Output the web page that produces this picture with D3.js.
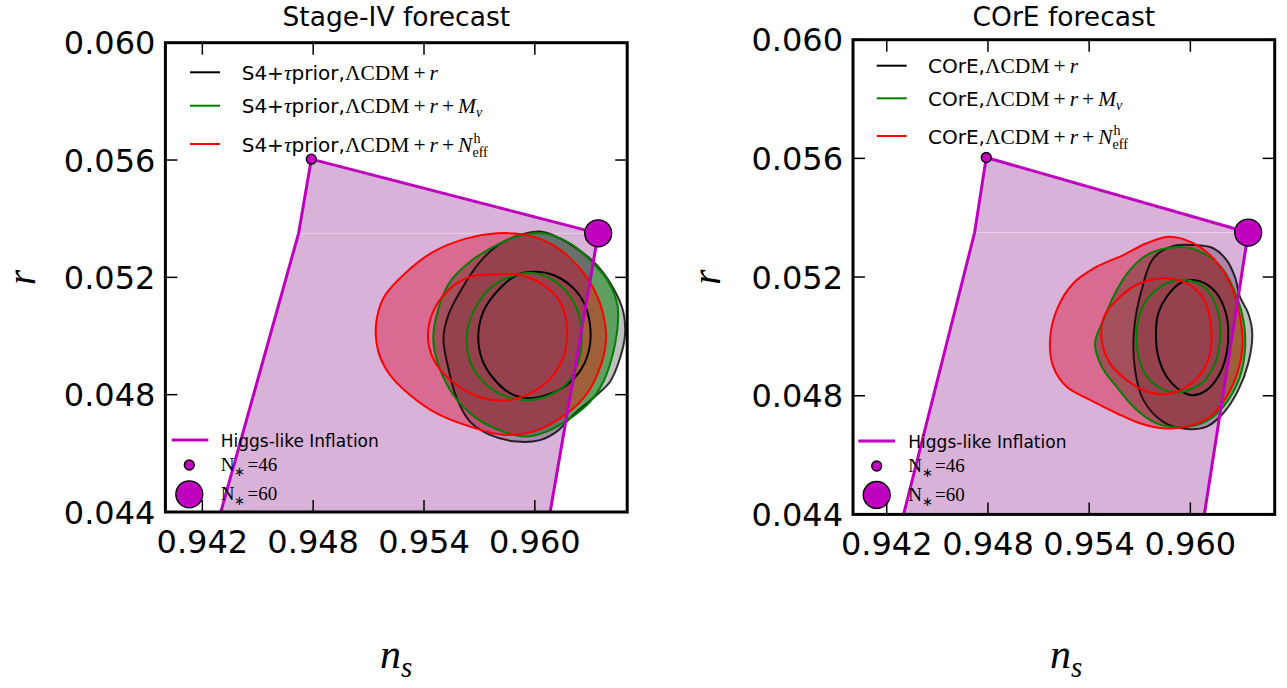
<!DOCTYPE html>
<html><head><meta charset="utf-8">
<script src="https://cdn.jsdelivr.net/npm/d3@7/dist/d3.min.js"></script>
<style>html,body{margin:0;padding:0;background:#fff;}svg{display:block;}</style>
</head><body>
<svg id="chart" width="1287" height="688"></svg>
<script>
// ---------- data ----------
const nsTicks = [0.942, 0.948, 0.954, 0.960];
const rTicks = [0.044, 0.048, 0.052, 0.056, 0.060];
const nsDomain = [0.940, 0.965];
const rDomain = [0.044, 0.060];
const nsTickLabels = ["0.942", "0.948", "0.954", "0.960"];
const rTickLabels = ["0.044", "0.048", "0.052", "0.056", "0.060"];

// Higgs-like inflation region (N*=46 ... N*=60)
const higgsN46 = [0.9479, 0.05603];
const higgsN60 = [0.96343, 0.0535];
const higgsLeftEdge = [[0.9479, 0.05603], [0.94721, 0.0535], [0.9430, 0.044]];
const higgsRightEdge = [[0.96343, 0.0535], [0.96083, 0.044]];

// Stage-IV contours
const s4Black95 = [[0.96028,0.05356],[0.95829,0.05321],[0.95703,0.05253],[0.95595,0.05151],[0.95532,0.05072],[0.95505,0.04992],[0.95532,0.04890],[0.95577,0.04788],[0.95649,0.04708],[0.95757,0.04663],[0.95902,0.04640],[0.96028,0.04645],[0.96118,0.04674],[0.96208,0.04731],[0.96335,0.04799],[0.96407,0.04844],[0.96461,0.04924],[0.96488,0.05003],[0.96479,0.05083],[0.96425,0.05163],[0.96335,0.05242],[0.96227,0.05299],[0.96136,0.05333]];
const s4Black68 = [[0.96010,0.05219],[0.95902,0.05208],[0.95794,0.05151],[0.95721,0.05083],[0.95694,0.05003],[0.95712,0.04924],[0.95775,0.04856],[0.95866,0.04805],[0.95956,0.04788],[0.96064,0.04799],[0.96173,0.04833],[0.96254,0.04890],[0.96295,0.04958],[0.96299,0.05037],[0.96263,0.05117],[0.96190,0.05174],[0.96100,0.05208]];
const s4Green95 = [[0.95450,0.04992],[0.95478,0.05094],[0.95541,0.05185],[0.95649,0.05253],[0.95775,0.05304],[0.95902,0.05339],[0.96046,0.05350],[0.96190,0.05316],[0.96299,0.05259],[0.96398,0.05185],[0.96447,0.05106],[0.96447,0.05026],[0.96416,0.04924],[0.96371,0.04844],[0.96299,0.04776],[0.96190,0.04719],[0.96064,0.04674],[0.95956,0.04657],[0.95829,0.04674],[0.95685,0.04719],[0.95559,0.04799],[0.95478,0.04901]];
const s4Green68 = [[0.95866,0.05202],[0.95757,0.05163],[0.95667,0.05083],[0.95631,0.04992],[0.95658,0.04901],[0.95740,0.04833],[0.95848,0.04793],[0.95956,0.04782],[0.96082,0.04799],[0.96181,0.04844],[0.96235,0.04912],[0.96254,0.05003],[0.96227,0.05094],[0.96154,0.05163],[0.96064,0.05202],[0.95974,0.05216]];
const s4Red95 = [[0.95794,0.05350],[0.95631,0.05333],[0.95450,0.05287],[0.95288,0.05208],[0.95180,0.05129],[0.95140,0.05037],[0.95153,0.04946],[0.95216,0.04867],[0.95324,0.04799],[0.95469,0.04736],[0.95649,0.04691],[0.95829,0.04663],[0.95992,0.04674],[0.96136,0.04719],[0.96263,0.04788],[0.96344,0.04878],[0.96385,0.04981],[0.96371,0.05072],[0.96317,0.05163],[0.96227,0.05242],[0.96100,0.05310],[0.95956,0.05344]];
const s4Red68 = [[0.95794,0.05210],[0.95649,0.05202],[0.95523,0.05151],[0.95442,0.05072],[0.95423,0.04981],[0.95469,0.04901],[0.95577,0.04833],[0.95721,0.04788],[0.95866,0.04782],[0.95992,0.04810],[0.96100,0.04867],[0.96163,0.04946],[0.96173,0.05037],[0.96136,0.05117],[0.96046,0.05174],[0.95920,0.05208]];

// COrE contours
const coreBlack95 = [[0.95899,0.05305],[0.95780,0.05263],[0.95711,0.05156],[0.95666,0.05021],[0.95672,0.04887],[0.95721,0.04786],[0.95839,0.04712],[0.95978,0.04688],[0.96097,0.04696],[0.96195,0.04741],[0.96284,0.04819],[0.96343,0.04909],[0.96367,0.05010],[0.96343,0.05078],[0.96294,0.05134],[0.96264,0.05201],[0.96215,0.05257],[0.96136,0.05297],[0.96017,0.05308]];
const coreBlack68 = [[0.96017,0.05190],[0.95938,0.05179],[0.95860,0.05134],[0.95810,0.05078],[0.95796,0.05010],[0.95810,0.04931],[0.95860,0.04864],[0.95938,0.04819],[0.96008,0.04802],[0.96097,0.04819],[0.96176,0.04876],[0.96215,0.04943],[0.96225,0.05021],[0.96205,0.05089],[0.96156,0.05145],[0.96087,0.05179]];
const coreGreen95 = [[0.95860,0.05297],[0.95741,0.05274],[0.95642,0.05224],[0.95553,0.05145],[0.95484,0.05055],[0.95435,0.04977],[0.95474,0.04898],[0.95563,0.04830],[0.95682,0.04752],[0.95800,0.04707],[0.95919,0.04694],[0.96037,0.04701],[0.96136,0.04729],[0.96225,0.04786],[0.96294,0.04864],[0.96324,0.04954],[0.96318,0.05044],[0.96275,0.05134],[0.96195,0.05224],[0.96097,0.05274],[0.95978,0.05300]];
const coreGreen68 = [[0.95938,0.05190],[0.95839,0.05173],[0.95741,0.05123],[0.95691,0.05055],[0.95682,0.04977],[0.95711,0.04898],[0.95780,0.04842],[0.95879,0.04814],[0.95978,0.04817],[0.96077,0.04847],[0.96146,0.04909],[0.96176,0.04988],[0.96166,0.05078],[0.96116,0.05145],[0.96037,0.05181]];
const coreRed95 = [[0.95879,0.05336],[0.95741,0.05314],[0.95602,0.05274],[0.95445,0.05235],[0.95306,0.05179],[0.95208,0.05089],[0.95168,0.04988],[0.95187,0.04898],[0.95267,0.04830],[0.95405,0.04786],[0.95563,0.04741],[0.95701,0.04707],[0.95839,0.04690],[0.95978,0.04696],[0.96116,0.04729],[0.96215,0.04797],[0.96284,0.04887],[0.96310,0.04977],[0.96294,0.05066],[0.96245,0.05167],[0.96146,0.05257],[0.96017,0.05314]];
const coreRed68 = [[0.95860,0.05196],[0.95701,0.05179],[0.95573,0.05128],[0.95488,0.05066],[0.95474,0.04988],[0.95523,0.04909],[0.95622,0.04853],[0.95741,0.04814],[0.95860,0.04806],[0.95978,0.04830],[0.96077,0.04887],[0.96120,0.04954],[0.96120,0.05044],[0.96081,0.05123],[0.95998,0.05173]];

const panelTitles = ["Stage-IV forecast", "COrE forecast"];
const legendPrefixes = [
  [{t:"S4+", f:"sans"}, {t:"τ", f:"serif", i:true}, {t:"prior,", f:"sans"}],
  [{t:"COrE,", f:"sans"}]
];
const higgsLabel = "Higgs-like Inflation";
const nStarValues = ["46", "60"];

// ---------- layout / style ----------
const SANS = "DejaVu Sans", SERIF = "Liberation Serif";
const colBlack = "#000000", colGreen = "#008000", colRed = "#ff0000", colMag = "#bf00bf";

const panels = [
  {x0:165.4, x1:627.2, y0:512, y1:42.7,
   data:{b95:s4Black95,b68:s4Black68,g95:s4Green95,g68:s4Green68,r95:s4Red95,r68:s4Red68},
   leg:{lx1:190, lx2:220, tx:241.7, rows:[72.3,105.7,144]},
   leg2:{lx1:171.7, lx2:208.3, ly:440, tx:220.7, mx:189.3, my:[465,494.3]},
   nsx:392, rBase:35},
  {x0:853, x1:1274.7, y0:514.4, y1:39.7,
   data:{b95:coreBlack95,b68:coreBlack68,g95:coreGreen95,g68:coreGreen68,r95:coreRed95,r68:coreRed68},
   leg:{lx1:876.7, lx2:906.7, tx:928, rows:[65.7,98.3,136]},
   leg2:{lx1:858.3, lx2:895, ly:441, tx:908.3, mx:876.7, my:[466,495]},
   nsx:1062, rBase:720}
];

const svg = d3.select("#chart");
const defs = svg.append("defs");

function fam(f){ return f === "sans" ? SANS : SERIF; }
function rich(g, x, y, segs, baseSize){
  let cx = x;
  segs.forEach(s => {
    const t = g.append("text")
      .attr("x", cx + (s.dx||0)).attr("y", y + (s.dy||0))
      .attr("font-family", fam(s.f))
      .attr("font-size", s.s || (s.f === "sans" ? baseSize : baseSize + 1.5))
      .attr("font-style", s.i ? "italic" : "normal")
      .attr("fill", "#000")
      .text(s.t);
    const w = t.node().getComputedTextLength();
    if (!s.noAdv) cx += w + (s.dx||0) + (s.after||0);
  });
  return cx;
}

panels.forEach((p, pi) => {
  const x = d3.scaleLinear().domain(nsDomain).range([p.x0, p.x1]);
  const y = d3.scaleLinear().domain(rDomain).range([p.y0, p.y1]);
  const g = svg.append("g");
  const clipId = "clip" + pi;
  defs.append("clipPath").attr("id", clipId).append("rect")
    .attr("x", p.x0).attr("y", p.y1).attr("width", p.x1 - p.x0).attr("height", p.y0 - p.y1);
  const plot = g.append("g").attr("clip-path", `url(#${clipId})`);

  const closed = d3.line().x(d => x(d[0])).y(d => y(d[1])).curve(d3.curveCatmullRomClosed.alpha(0.5));
  const D = p.data;

  // contour fills
  plot.append("path").attr("d", closed(D.b95)).attr("fill", colBlack).attr("fill-opacity", 0.25);
  plot.append("path").attr("d", closed(D.g95)).attr("fill", colGreen).attr("fill-opacity", 0.5);
  plot.append("path").attr("d", closed(D.r95)).attr("fill", colRed).attr("fill-opacity", 0.4);

  // Higgs region fill (two pieces -> faint seam)
  const poly = d3.line().x(d => x(d[0])).y(d => y(d[1]));
  const upper = [higgsLeftEdge[0], higgsLeftEdge[1], higgsRightEdge[0]];
  const lower = [higgsLeftEdge[1], higgsLeftEdge[2], higgsRightEdge[1], higgsRightEdge[0]];
  plot.append("path").attr("d", poly(upper) + "Z").attr("fill", "#800080").attr("fill-opacity", 0.3);
  plot.append("path").attr("d", poly(lower) + "Z").attr("fill", "#800080").attr("fill-opacity", 0.3);
  plot.append("path").attr("d", poly([higgsLeftEdge[1], higgsRightEdge[0]]))
    .attr("stroke", "#ffffff").attr("stroke-opacity", 0.35).attr("stroke-width", 1).attr("fill", "none");

  // contour lines
  [[D.b95, colBlack, 0.8], [D.b68, colBlack, 1], [D.g95, colGreen, 1], [D.g68, colGreen, 1], [D.r95, colRed, 1], [D.r68, colRed, 1]]
    .forEach(([arr, c, op]) => {
      plot.append("path").attr("d", closed(arr)).attr("fill", "none")
        .attr("stroke", c).attr("stroke-opacity", op).attr("stroke-width", 2);
    });

  // Higgs boundary lines
  plot.append("path").attr("d", poly(higgsLeftEdge)).attr("fill", "none").attr("stroke", colMag).attr("stroke-width", 3);
  plot.append("path").attr("d", poly(higgsRightEdge)).attr("fill", "none").attr("stroke", colMag).attr("stroke-width", 3);
  plot.append("path").attr("d", poly([higgsN46, higgsN60])).attr("fill", "none").attr("stroke", colMag).attr("stroke-width", 3);

  // markers
  g.append("circle").attr("cx", x(higgsN46[0])).attr("cy", y(higgsN46[1])).attr("r", 5)
    .attr("fill", colMag).attr("stroke", "#000").attr("stroke-width", 1.3);
  g.append("circle").attr("cx", x(higgsN60[0])).attr("cy", y(higgsN60[1])).attr("r", 13.5)
    .attr("fill", colMag).attr("stroke", "#000").attr("stroke-width", 1.3);

  // frame & ticks
  g.append("rect").attr("x", p.x0).attr("y", p.y1).attr("width", p.x1 - p.x0).attr("height", p.y0 - p.y1)
    .attr("fill", "none").attr("stroke", "#000").attr("stroke-width", 3);
  const TL = 12;
  nsTicks.forEach((v, i) => {
    const px = x(v);
    g.append("line").attr("x1", px).attr("x2", px).attr("y1", p.y0).attr("y2", p.y0 - TL).attr("stroke", "#000").attr("stroke-width", 1.5);
    g.append("line").attr("x1", px).attr("x2", px).attr("y1", p.y1).attr("y2", p.y1 + TL).attr("stroke", "#000").attr("stroke-width", 1.5);
    g.append("text").attr("x", px).attr("y", p.y0 + 41).attr("text-anchor", "middle")
      .attr("font-family", SANS).attr("font-size", 32).text(nsTickLabels[i]);
  });
  rTicks.forEach((v, i) => {
    const py = y(v);
    g.append("line").attr("x1", p.x0).attr("x2", p.x0 + TL).attr("y1", py).attr("y2", py).attr("stroke", "#000").attr("stroke-width", 1.5);
    g.append("line").attr("x1", p.x1).attr("x2", p.x1 - TL).attr("y1", py).attr("y2", py).attr("stroke", "#000").attr("stroke-width", 1.5);
    g.append("text").attr("x", p.x0 - 10).attr("y", py + 11.5).attr("text-anchor", "end")
      .attr("font-family", SANS).attr("font-size", 32).text(rTickLabels[i]);
  });

  // title
  g.append("text").attr("x", (p.x0 + p.x1) / 2).attr("y", 26).attr("text-anchor", "middle")
    .attr("font-family", SANS).attr("font-size", 26.5).text(panelTitles[pi]);

  // axis labels
  const nsT = g.append("text").attr("x", p.nsx - 12).attr("y", 668)
    .attr("font-family", SERIF).attr("font-size", 42).attr("font-style", "italic");
  nsT.append("tspan").text("n");
  nsT.append("tspan").attr("font-size", 29).attr("dy", 9).text("s");
  g.append("text").attr("transform", `translate(${p.rBase},${(p.y0 + p.y1) / 2}) rotate(-90)`)
    .attr("text-anchor", "middle").attr("font-family", SERIF).attr("font-size", 39).attr("font-style", "italic").text("r");

  // upper legend
  const L = p.leg;
  const pre = legendPrefixes[pi];
  const plus = {t:"+", f:"serif", dx:4, after:4};
  const suffixes = [
    [{t:"ΛCDM", f:"serif"}, plus, {t:"r", f:"serif", i:true}],
    [{t:"ΛCDM", f:"serif"}, plus, {t:"r", f:"serif", i:true}, plus, {t:"M", f:"serif", i:true}, {t:"ν", f:"serif", i:true, s:14, dy:4}],
    [{t:"ΛCDM", f:"serif"}, plus, {t:"r", f:"serif", i:true}, plus, {t:"N", f:"serif", i:true}, {t:"h", f:"serif", s:14, dy:-9, noAdv:true, dx:1}, {t:"eff", f:"serif", s:14, dy:5, dx:0}]
  ];
  [colBlack, colGreen, colRed].forEach((c, k) => {
    const ry = L.rows[k];
    g.append("line").attr("x1", L.lx1).attr("x2", L.lx2).attr("y1", ry).attr("y2", ry).attr("stroke", c).attr("stroke-width", 2);
    rich(g, L.tx, ry + 7.5, pre.concat(suffixes[k]), 20);
  });

  // lower legend
  const L2 = p.leg2;
  g.append("line").attr("x1", L2.lx1).attr("x2", L2.lx2).attr("y1", L2.ly).attr("y2", L2.ly).attr("stroke", colMag).attr("stroke-width", 3);
  g.append("text").attr("x", L2.tx).attr("y", L2.ly + 6.5).attr("font-family", SANS).attr("font-size", 17).text(higgsLabel);
  [5, 13.5].forEach((r, k) => {
    g.append("circle").attr("cx", L2.mx).attr("cy", L2.my[k]).attr("r", r)
      .attr("fill", colMag).attr("stroke", "#000").attr("stroke-width", 1.3);
    rich(g, L2.tx, L2.my[k] + 6, [{t:"N", f:"serif", s:19}, {t:"∗", f:"serif", s:13, dy:5}, {t:"=" + nStarValues[k], f:"serif", s:19, dx:2}], 17);
  });
});
</script>
</body></html>
